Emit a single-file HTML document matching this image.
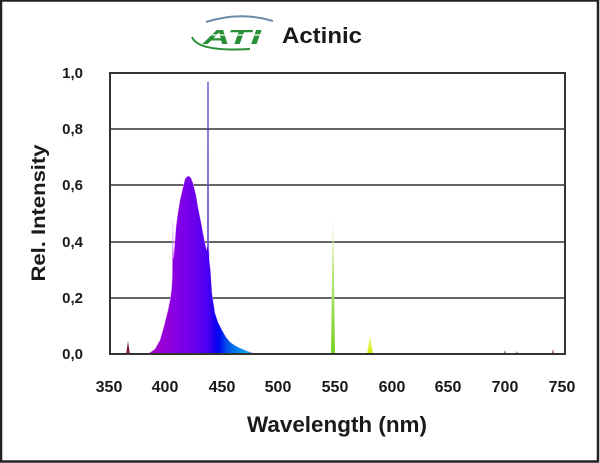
<!DOCTYPE html>
<html><head><meta charset="utf-8"><style>
html,body{margin:0;padding:0;background:#fff;}
svg{display:block;}
text{font-family:"Liberation Sans",Arial,sans-serif;fill:#1a1a1a;}
</style></head><body>
<svg width="600" height="463" viewBox="0 0 600 463" xmlns="http://www.w3.org/2000/svg">
<defs>
<linearGradient id="spec" gradientUnits="userSpaceOnUse" x1="145" y1="0" x2="262" y2="0">
<stop offset="0" stop-color="#b020b8"/>
<stop offset="0.08" stop-color="#a000cc"/>
<stop offset="0.25" stop-color="#8a00e2"/>
<stop offset="0.40" stop-color="#7000ec"/>
<stop offset="0.52" stop-color="#5000f2"/>
<stop offset="0.56" stop-color="#3800f2"/>
<stop offset="0.60" stop-color="#1000f0"/>
<stop offset="0.64" stop-color="#0010f0"/>
<stop offset="0.70" stop-color="#0050e8"/>
<stop offset="0.82" stop-color="#0090ea"/>
<stop offset="1" stop-color="#40c8f2"/>
</linearGradient>
<linearGradient id="grn" x1="0" y1="0" x2="0" y2="1">
<stop offset="0" stop-color="#f0fae0"/>
<stop offset="0.25" stop-color="#c8ec90"/>
<stop offset="1" stop-color="#78d020"/>
</linearGradient>
<linearGradient id="yel" x1="0" y1="0" x2="0" y2="1">
<stop offset="0" stop-color="#f4fa90"/>
<stop offset="1" stop-color="#d4ea00"/>
</linearGradient>
</defs>
<rect x="0" y="0" width="600" height="463" fill="#fff"/>
<rect x="1" y="0.5" width="597" height="461" fill="none" stroke="#222" stroke-width="2.5"/>

<!-- logo -->
<path d="M206 22 Q240 11 273 21" fill="none" stroke="#6a8aa8" stroke-width="2"/>
<text x="203" y="44" font-size="20" font-weight="bold" font-style="italic" style="fill:#2a9038" textLength="58" lengthAdjust="spacingAndGlyphs">ATI</text>
<line x1="212" y1="35" x2="268" y2="35" stroke="#fff" stroke-width="1.2"/>
<path d="M192 37 Q198 52 250 49" fill="none" stroke="#2a9038" stroke-width="2"/>
<text x="282" y="43" font-size="22" font-weight="bold" textLength="80" lengthAdjust="spacingAndGlyphs">Actinic</text>

<!-- gridlines -->
<g stroke="#333" stroke-width="1.5">
<line x1="110" y1="129" x2="565" y2="129"/>
<line x1="110" y1="185" x2="565" y2="185"/>
<line x1="110" y1="242" x2="565" y2="242"/>
<line x1="110" y1="298" x2="565" y2="298"/>
</g>

<!-- spectrum -->
<path d="M145 354 L150 352.5 L155 349 L160 340 L164 326 L168 310 L170 300 L171.5 290 L172.3 276 L172.6 240 L172.9 222 L173.2 245 L173.6 258 L175 240 L176 227 L178 212 L180 200 L183 187 L185 179 L187 176.5 L189 176 L191 178 L193 183 L196 195 L198 207 L201 222 L203 233 L205 243 L206.5 250 L207.3 245 L207.7 120 L208 81 L208.3 120 L208.7 245 L209.5 262 L210.5 270 L212 293 L215 313 L218 322 L222 330 L226 337 L230 342 L235 345.5 L240 348 L247 351 L253 353 L263 354 Z" fill="url(#spec)" stroke="#e8b8ff" stroke-width="0.5"/>
<line x1="208" y1="82" x2="208" y2="250" stroke="#2828b8" stroke-width="1.1"/>
<!-- small spikes -->
<path d="M126 354 L128 341 L130 354 Z" fill="#7a2048"/>
<path d="M331 354 L332.5 240 L333 217 L333.5 240 L335 354 Z" fill="url(#grn)"/>
<path d="M367 354 L369 342 L370 335 L371 342 L373 354 Z" fill="url(#yel)"/>
<path d="M504 354 L505 350 L506 354 Z" fill="#8a3040"/>
<path d="M516 354 L517 351 L518 354 Z" fill="#8a3040"/>
<path d="M552 354 L553 349 L554 354 Z" fill="#8a3040"/>

<!-- plot frame -->
<rect x="110" y="73" width="455" height="281" fill="none" stroke="#333" stroke-width="2"/>

<!-- y ticks -->
<g font-size="15" font-weight="bold" text-anchor="end">
<text x="83" y="78">1,0</text>
<text x="83" y="134">0,8</text>
<text x="83" y="190">0,6</text>
<text x="83" y="247">0,4</text>
<text x="83" y="303">0,2</text>
<text x="83" y="359">0,0</text>
</g>
<text transform="translate(45,213) rotate(-90)" font-size="19" font-weight="bold" text-anchor="middle" textLength="137" lengthAdjust="spacingAndGlyphs">Rel. Intensity</text>

<!-- x ticks -->
<g font-size="16" font-weight="bold" text-anchor="middle">
<text x="109" y="392">350</text>
<text x="165" y="392">400</text>
<text x="222" y="392">450</text>
<text x="278" y="392">500</text>
<text x="335" y="392">550</text>
<text x="392" y="392">600</text>
<text x="448" y="392">650</text>
<text x="505" y="392">700</text>
<text x="562" y="392">750</text>
</g>
<text x="337" y="432" font-size="22" font-weight="bold" text-anchor="middle" textLength="180" lengthAdjust="spacingAndGlyphs">Wavelength (nm)</text>
</svg>
</body></html>
